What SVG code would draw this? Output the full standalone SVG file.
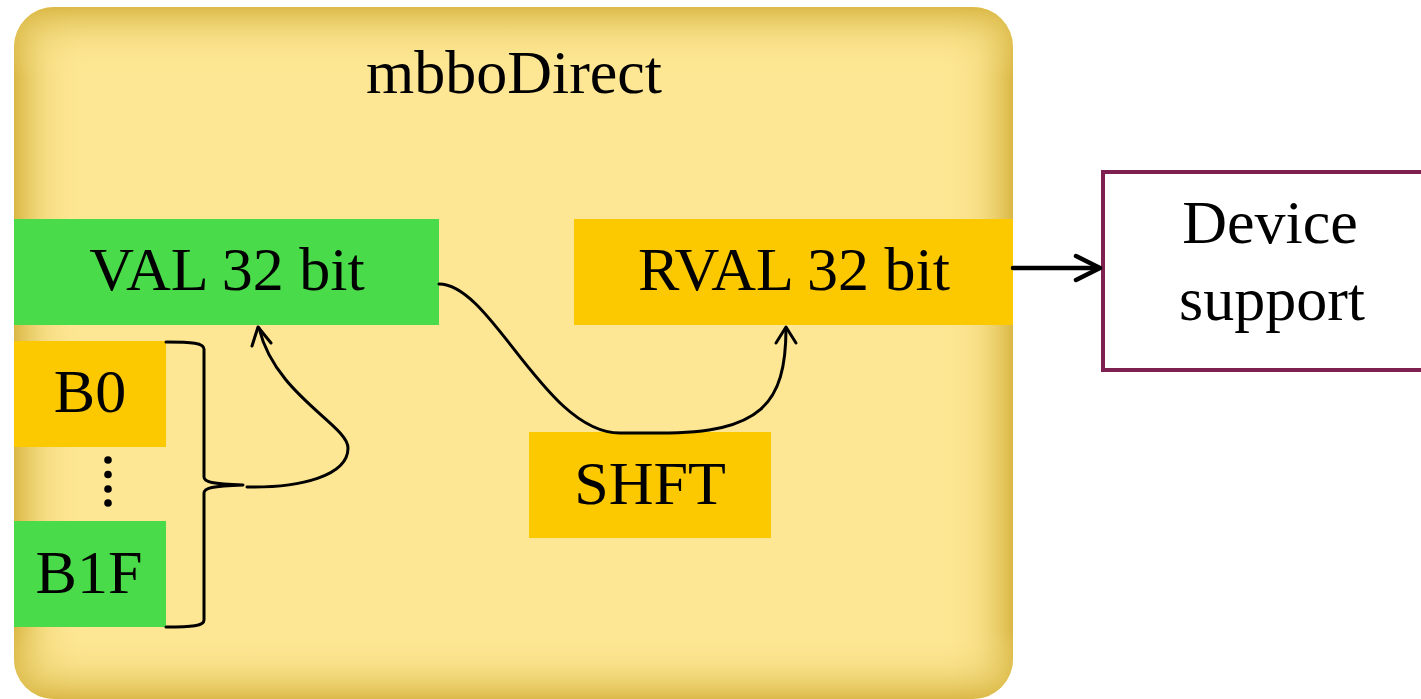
<svg xmlns="http://www.w3.org/2000/svg" width="1421" height="699" viewBox="0 0 1421 699">
<defs>
  <clipPath id="cclip"><rect x="14" y="7" width="999" height="692" rx="40" ry="40"/></clipPath>
  <linearGradient id="gh" x1="14" y1="0" x2="1013" y2="0" gradientUnits="userSpaceOnUse">
    <stop offset="0" stop-color="#D6B23C" stop-opacity="0.9"/>
    <stop offset="0.035" stop-color="#E9CE6A" stop-opacity="0.35"/>
    <stop offset="0.075" stop-color="#FFE896" stop-opacity="0"/>
    <stop offset="0.925" stop-color="#FFE896" stop-opacity="0"/>
    <stop offset="0.965" stop-color="#E9CE6A" stop-opacity="0.35"/>
    <stop offset="1" stop-color="#D6B23C" stop-opacity="0.9"/>
  </linearGradient>
  <linearGradient id="gv" x1="0" y1="7" x2="0" y2="699" gradientUnits="userSpaceOnUse">
    <stop offset="0" stop-color="#D6B23C" stop-opacity="0.85"/>
    <stop offset="0.05" stop-color="#E9CE6A" stop-opacity="0.3"/>
    <stop offset="0.1" stop-color="#FFE896" stop-opacity="0"/>
    <stop offset="0.9" stop-color="#FFE896" stop-opacity="0"/>
    <stop offset="0.95" stop-color="#E9CE6A" stop-opacity="0.3"/>
    <stop offset="1" stop-color="#D6B23C" stop-opacity="0.85"/>
  </linearGradient>
  <style>
    .t { font-family: "Liberation Serif", "Times New Roman", serif; font-size: 62px; fill: #000; text-anchor: middle; }
    .green { fill: #4ADB4A; }
    .orange { fill: #FCC900; }
    .ln { fill: none; stroke: #000; stroke-width: 3; stroke-linecap: round; stroke-linejoin: round; }
    .thick { fill: none; stroke: #000; stroke-width: 4.5; stroke-linecap: round; stroke-linejoin: round; }
  </style>
</defs>

<g id="container">
  <g clip-path="url(#cclip)">
    <rect x="14" y="7" width="999" height="692" fill="#FEE794"/>
    <rect x="14" y="7" width="999" height="692" fill="url(#gh)"/>
    <rect x="14" y="7" width="999" height="692" fill="url(#gv)"/>
  </g>
  <text class="t" x="514" y="93">mbboDirect</text>
</g>

<g id="val">
  <rect class="green" x="14" y="219" width="425" height="106"/>
  <text class="t" x="227" y="290">VAL 32 bit</text>
</g>

<g id="rval">
  <rect class="orange" x="574" y="219" width="439" height="106"/>
  <text class="t" x="794" y="290">RVAL 32 bit</text>
</g>

<g id="shft">
  <rect class="orange" x="529" y="432" width="242" height="106"/>
  <text class="t" x="650" y="504">SHFT</text>
</g>

<g id="b0">
  <rect class="orange" x="14" y="341" width="152" height="106"/>
  <text class="t" x="90" y="412">B0</text>
</g>

<g id="dots">
  <circle cx="108" cy="460" r="3.8"/>
  <circle cx="108" cy="474.5" r="3.8"/>
  <circle cx="108" cy="489" r="3.8"/>
  <circle cx="108" cy="503" r="3.8"/>
</g>

<g id="b1f">
  <rect class="green" x="14" y="521" width="152" height="106"/>
  <text class="t" x="89" y="593">B1F</text>
</g>

<g id="device">
  <rect x="1103" y="172" width="340" height="198" fill="#FFFFFF" stroke="#7E2050" stroke-width="4"/>
  <text class="t" x="1270" y="243">Device</text>
  <text class="t" x="1272" y="320">support</text>
</g>

<g id="connectors">
  <path class="ln" d="M166,342 C192,342 204,343 204,349 L204,477 C204,482 212,484 243,485 C212,486 204,488 204,493 L204,620 C204,626 192,627 166,627"/>
  <path class="ln" d="M247,487 C300,488 348,476 348,448 C348,425 275,395 259,328"/>
  <path class="ln" d="M252,346 L258,327 L271,343"/>
  <path class="ln" d="M439,284 C492,284 545,433 620,433 L660,433 C760,433 786,405 786,328"/>
  <path class="ln" d="M776,343 L786,327 L796,343"/>
  <path class="thick" d="M1013,268 L1099,268"/>
  <path class="thick" d="M1076,256 L1100,268 L1076,280"/>
</g>
</svg>
